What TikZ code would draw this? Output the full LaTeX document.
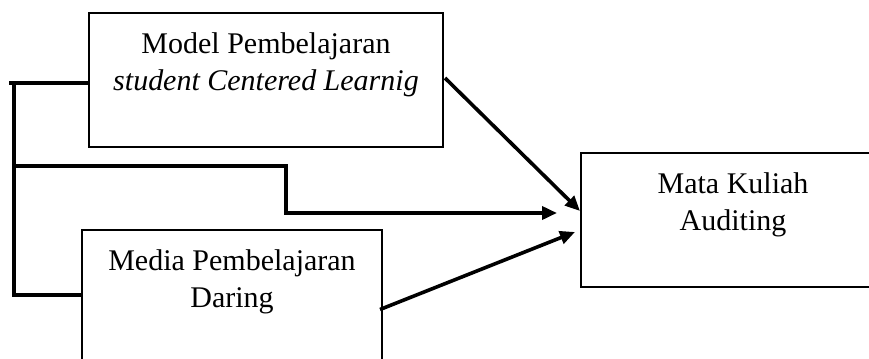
\documentclass[tikz,border=0pt]{standalone}
\usepackage{fontspec}
\setmainfont{Liberation Serif}
\usetikzlibrary{calc}
\usetikzlibrary{arrows.meta}
\tikzset{
	kotak/.style={draw,line width=1pt,align=center,font=\fontsize{15}{18.5}\selectfont},
	garis/.style={line width=1.8pt,line join=miter},
	panah/.style={garis,-{Triangle[length=7.5pt,width=6.5pt]}}
}

\begin{document}
\begin{tikzpicture}[x=0.5pt,y=-0.5pt]
	\useasboundingbox (0,0) rectangle (869,359);
	\clip (0,0) rectangle (869,359);
	\node[kotak,minimum width=177pt,minimum height=67pt] (model) at (266,80) {Model Pembelajaran\\\textit{student Centered Learnig}\\\mbox{}};
	\node[kotak,minimum width=150pt,minimum height=67.5pt] (media) at (232,297.5) {Media Pembelajaran\\Daring\\\mbox{}};
	\node[kotak,minimum width=152pt,minimum height=67pt] (mata) at (733,220) {Mata Kuliah\\Auditing\\\mbox{}};
	\coordinate (kiri) at (9,83);
	\coordinate (atas) at (14,84);
	\coordinate (bawah) at (14,295);
	\coordinate (tengah) at (14,166);
	\coordinate (belok) at (286,166);
	\coordinate (ujungA) at (580,211);
	\coordinate (ujungB) at (557,213);
	\coordinate (ujungC) at (575,232);
	\draw[garis] (kiri) -- (kiri -| model.west);
	\draw[garis] (atas) -- (bawah) -- (bawah -| media.west);
	\draw[panah] (tengah) -- (belok) |- (ujungB);
	\draw[panah] ($(model.east)+(1,-2)$) -- (ujungA);
	\draw[panah] ($(media.east)+(-3,12)$) -- (ujungC);
\end{tikzpicture}
\end{document}
